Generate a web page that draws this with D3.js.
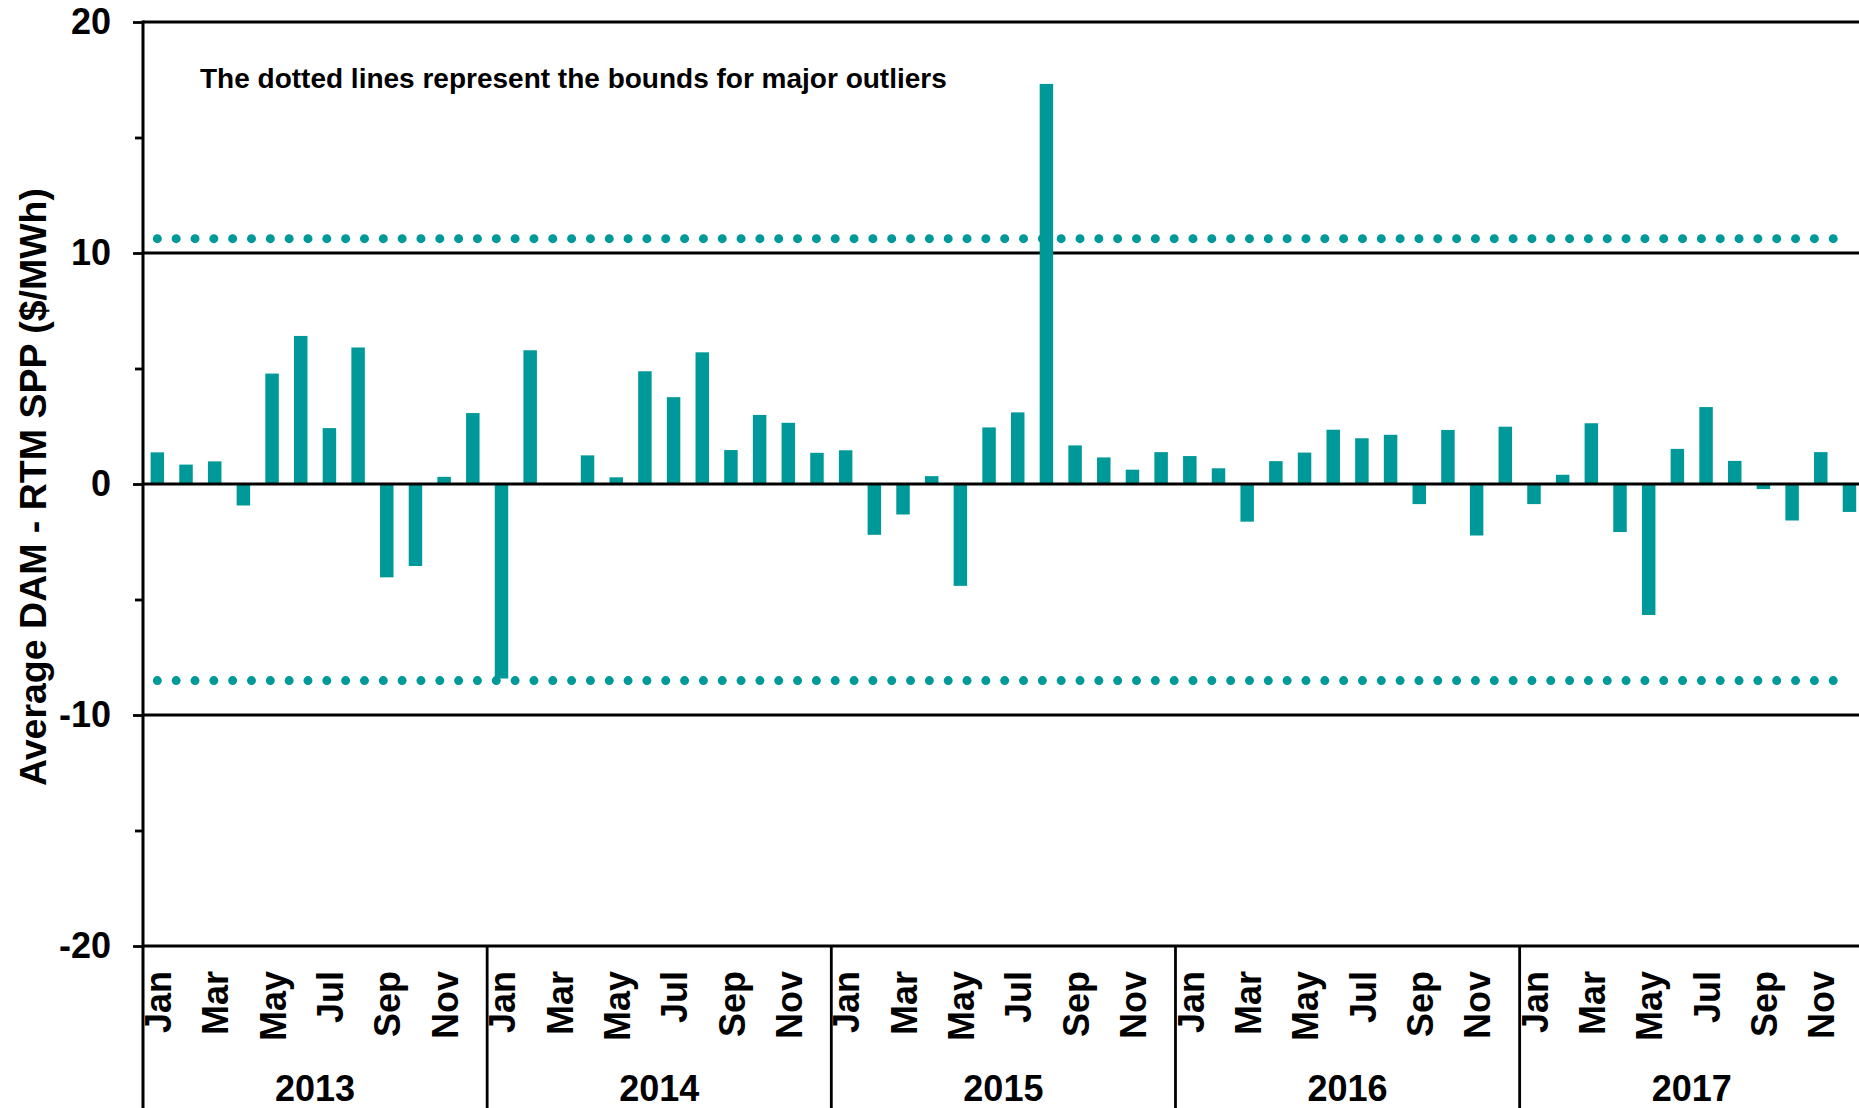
<!DOCTYPE html>
<html>
<head>
<meta charset="utf-8">
<script src="https://cdn.jsdelivr.net/npm/d3@7"></script>
<style>
  body { margin: 0; background: #fff; }
  svg { display: block; font-family: "Liberation Sans", Arial, sans-serif; font-weight: bold; }
</style>
</head>
<body>
<div id="chart"></div>
<script>
// chart data
const YEARS = ["2013", "2014", "2015", "2016", "2017"];
const MONTHS = ["Jan", "Feb", "Mar", "Apr", "May", "Jun", "Jul", "Aug", "Sep", "Oct", "Nov", "Dec"];
const VALUES_2013 = [1.37, 0.84, 0.98, -0.93, 4.78, 6.41, 2.42, 5.91, -4.04, -3.55, 0.31, 3.07];
const VALUES_2014 = [-8.42, 5.79, 0, 1.24, 0.29, 4.88, 3.76, 5.70, 1.47, 2.99, 2.65, 1.35];
const VALUES_2015 = [1.46, -2.20, -1.32, 0.34, -4.41, 2.45, 3.10, 17.32, 1.67, 1.15, 0.62, 1.38];
const VALUES_2016 = [1.21, 0.68, -1.63, 0.99, 1.36, 2.35, 1.98, 2.13, -0.87, 2.34, -2.23, 2.48];
const VALUES_2017 = [-0.87, 0.40, 2.63, -2.08, -5.67, 1.52, 3.33, 1.00, -0.22, -1.58, 1.38, -1.21];
const UPPER_BOUND = 10.62;
const LOWER_BOUND = -8.51;
const Y_TICKS = [-20, -10, 0, 10, 20];
const Y_MINOR_TICKS = [-15, -5, 5, 15];
const NOTE = "The dotted lines represent the bounds for major outliers";
const Y_TITLE = "Average DAM - RTM SPP ($/MWh)";

const WIDTH = 1859;
const HEIGHT = 1108;
const TEAL = "#009999";
const LEFT = 143;
const TOP = 22;
const BOTTOM = 946;
const STEP = 28.68;

// flatten the yearly series into one month list
const data = [];
[VALUES_2013, VALUES_2014, VALUES_2015, VALUES_2016, VALUES_2017].forEach((vals, yi) => {
    vals.forEach((v, mi) => {
        data.push({ i: yi * 12 + mi, year: YEARS[yi], month: MONTHS[mi], value: v });
    });
});

const svg = d3.select("#chart")
    .append("svg")
    .attr("width", WIDTH)
    .attr("height", HEIGHT);

const right = LEFT + STEP * data.length;

const x = d3.scaleBand()
    .domain(data.map(d => d.i))
    .range([LEFT, right])
    .paddingInner(0.53)
    .paddingOuter(0.265);

// month boundaries
const xEdge = d3.scaleLinear()
    .domain([0, data.length])
    .range([LEFT, right]);

const y = d3.scaleLinear()
    .domain([-20, 20])
    .range([BOTTOM, TOP]);

// gridlines (zero line is drawn later, on top of the bars)
svg.append("g")
    .selectAll("line")
    .data(Y_TICKS.filter(t => t !== 0))
    .enter()
    .append("line")
    .attr("x1", LEFT)
    .attr("x2", WIDTH)
    .attr("y1", d => y(d))
    .attr("y2", d => y(d))
    .attr("stroke", "#000")
    .attr("stroke-width", 2.8);

// dotted outlier bounds
const firstC = x(0) + x.bandwidth() / 2;
const lastC = x(data.length - 1) + x.bandwidth() / 2;
svg.append("g")
    .selectAll("line")
    .data([UPPER_BOUND, LOWER_BOUND])
    .enter()
    .append("line")
    .attr("x1", firstC)
    .attr("x2", lastC)
    .attr("y1", d => y(d))
    .attr("y2", d => y(d))
    .attr("stroke", TEAL)
    .attr("stroke-width", 9)
    .attr("stroke-linecap", "round")
    .attr("stroke-dasharray", "0 18.83");

// bars
svg.append("g")
    .selectAll("rect")
    .data(data)
    .enter()
    .append("rect")
    .attr("x", d => x(d.i))
    .attr("width", x.bandwidth())
    .attr("y", d => y(Math.max(0, d.value)))
    .attr("height", d => Math.abs(y(d.value) - y(0)))
    .attr("fill", TEAL);

// zero line
svg.append("line")
    .attr("x1", LEFT)
    .attr("x2", WIDTH)
    .attr("y1", y(0))
    .attr("y2", y(0))
    .attr("stroke", "#000")
    .attr("stroke-width", 2.8);

// y axis (plain hyphen for negatives, like the original)
const yAxis = svg.append("g")
    .attr("transform", `translate(${LEFT},0)`)
    .call(d3.axisLeft(y).tickValues(Y_TICKS).tickSize(10).tickPadding(22).tickFormat(d => String(d)));
yAxis.select(".domain").remove();
yAxis.selectAll(".tick line").attr("stroke-width", 2.8);
yAxis.selectAll(".tick text")
    .attr("font-family", "Liberation Sans, Arial, sans-serif")
    .attr("font-weight", "bold")
    .attr("font-size", 36)
    .attr("fill", "#000");

svg.append("g")
    .attr("transform", `translate(${LEFT},0)`)
    .call(d3.axisLeft(y).tickValues(Y_MINOR_TICKS).tickSize(8).tickFormat(""))
    .call(g => g.select(".domain").remove())
    .selectAll(".tick line").attr("stroke-width", 2.8);

// left axis line runs to the bottom of the page
svg.append("line")
    .attr("x1", LEFT).attr("x2", LEFT)
    .attr("y1", TOP - 1.4).attr("y2", HEIGHT)
    .attr("stroke", "#000")
    .attr("stroke-width", 3);

// year separators below the axis
svg.append("g")
    .selectAll("line")
    .data(YEARS.slice(1))
    .enter()
    .append("line")
    .attr("x1", (d, k) => xEdge((k + 1) * 12))
    .attr("x2", (d, k) => xEdge((k + 1) * 12))
    .attr("y1", BOTTOM)
    .attr("y2", HEIGHT)
    .attr("stroke", "#000")
    .attr("stroke-width", 2.8);

// month labels (every other month)
svg.append("g")
    .selectAll("text")
    .data(data.filter(d => d.i % 2 === 0))
    .enter()
    .append("text")
    .attr("transform", d => `translate(${x(d.i) + x.bandwidth() / 2},${BOTTOM + 25}) rotate(-90)`)
    .attr("text-anchor", "end")
    .attr("dy", "0.38em")
    .attr("font-size", 36)
    .text(d => d.month);

// year labels
svg.append("g")
    .selectAll("text")
    .data(YEARS)
    .enter()
    .append("text")
    .attr("x", (d, k) => xEdge(k * 12 + 6))
    .attr("y", 1101)
    .attr("text-anchor", "middle")
    .attr("font-size", 36)
    .text(d => d);

// y axis title
svg.append("text")
    .attr("transform", `translate(46,${(TOP + BOTTOM) / 2 + 3}) rotate(-90)`)
    .attr("text-anchor", "middle")
    .attr("font-size", 37.5)
    .text(Y_TITLE);

// note
svg.append("text")
    .attr("x", 200)
    .attr("y", 88)
    .attr("font-size", 28)
    .text(NOTE);
</script>
</body>
</html>
